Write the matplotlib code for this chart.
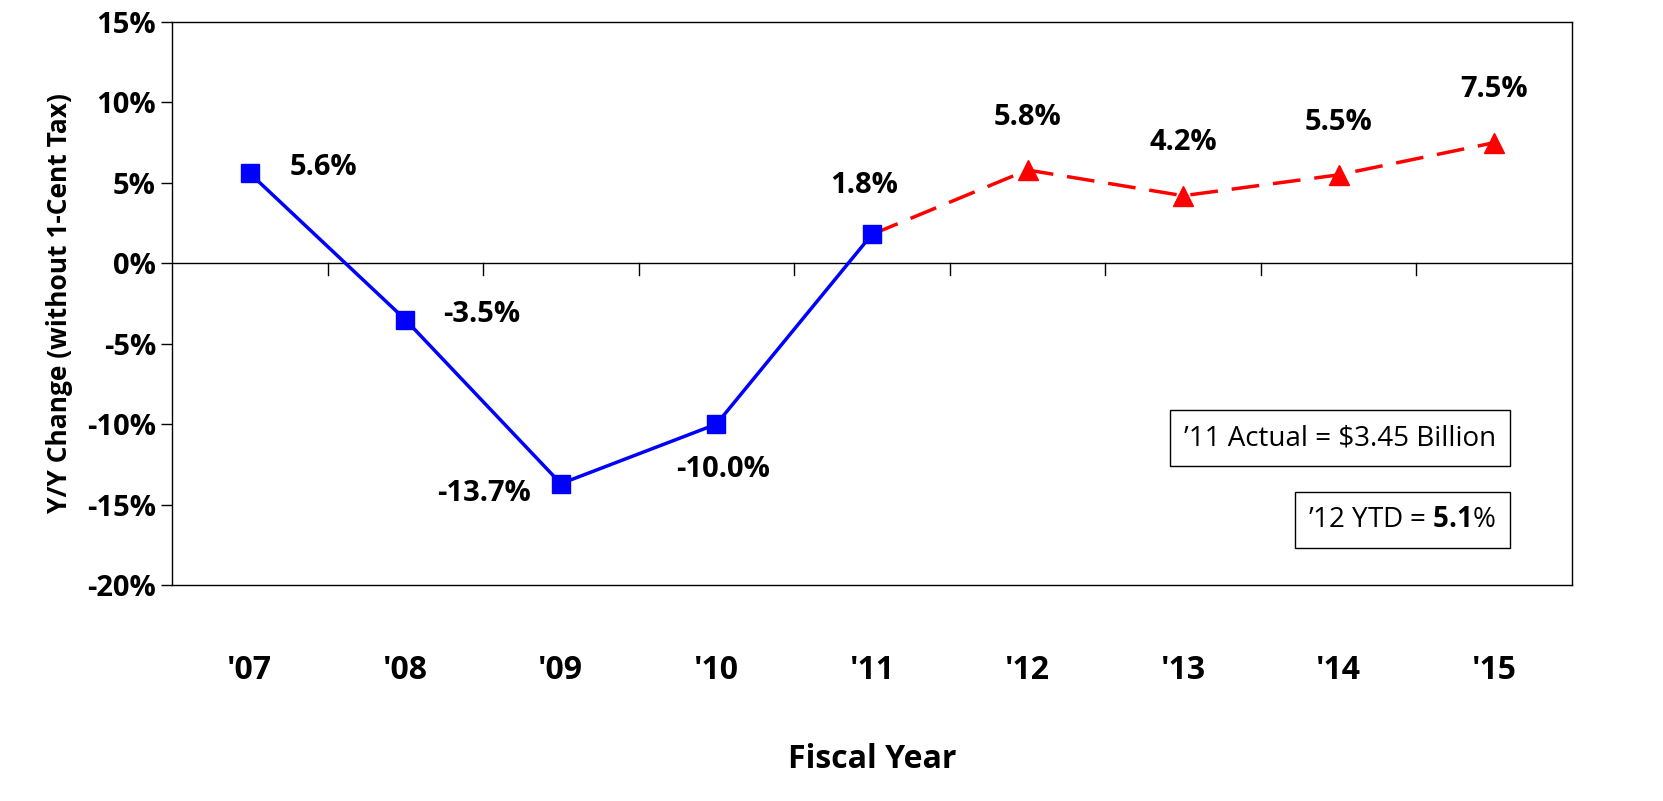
import numpy as np
import matplotlib
matplotlib.use("Agg")
import matplotlib.pyplot as plt

years = ["'07", "'08", "'09", "'10", "'11", "'12", "'13", "'14", "'15"]
actual = [5.6, -3.5, -13.7, -10.0, 1.8]
forecast = [1.8, 5.8, 4.2, 5.5, 7.5]
yticks = [15, 10, 5, 0, -5, -10, -15, -20]

plt.rcParams['font.family'] = ['Open Sans', 'DejaVu Sans']
plt.rcParams['font.weight'] = 'bold'
plt.rcParams['mathtext.fontset'] = 'custom'
plt.rcParams['mathtext.bf'] = 'Open Sans:bold'

fig = plt.figure(figsize=(16.63, 8.01), dpi=100)
ax = fig.add_axes([0.1034, 0.2697, 0.8419, 0.7028])

xa = np.arange(len(actual))
xf = np.arange(len(actual) - 1, len(years))
ax.plot(xa, actual, color='#0000FF', lw=2.5, marker='s', ms=13, zorder=3)
ax.plot(xf[1:], forecast[1:], color='#FF0000', lw=0, marker='^', ms=14, zorder=3)
ax.plot(xf, forecast, color='#FF0000', lw=2.5, dashes=(8, 4), zorder=2)

ax.set_xlim(-0.5, len(years) - 0.5)
ax.set_ylim(-20, 15)
ax.axhline(0, color='black', lw=1)
for i in range(len(years) - 1):
    ax.plot([i + 0.5, i + 0.5], [0, -0.75], color='black', lw=1)

ax.set_xticks(range(len(years)))
ax.set_xticklabels(years, fontsize=23, fontweight='bold')
ax.tick_params(axis='x', length=0, pad=50)
ax.set_yticks(yticks)
ax.set_yticklabels([f"{v}%" for v in yticks], fontsize=21, fontweight='bold')
ax.tick_params(axis='y', length=8, direction='out', width=1)
for s in ax.spines.values():
    s.set_linewidth(1)

ax.set_ylabel("Y/Y Change (without 1-Cent Tax)", fontsize=19, fontweight='bold', labelpad=10)
ax.set_xlabel("Fiscal Year", fontsize=23, fontweight='bold', labelpad=40)

def lab(x, y, t, dx, dy):
    ax.annotate(t, (x, y), xytext=(dx, dy), textcoords='offset points',
                ha='center', va='center', fontsize=21, fontweight='bold')

lab(0, actual[0], "5.6%", 53, 4)
lab(1, actual[1], "-3.5%", 55, 4)
lab(2, actual[2], "-13.7%", -55, -7)
lab(3, actual[3], "-10.0%", 5, -33)
lab(4, actual[4], "1.8%", -6, 35)
for i, v in zip(xf[1:], forecast[1:]):
    lab(i, v, f"{v}%", 0, 38)

ax.text(0.946, 0.261, "\u201911 Actual = $3.45 Billion", transform=ax.transAxes,
        ha='right', va='center', fontsize=20, fontweight='normal',
        bbox=dict(boxstyle='square,pad=0.5', fc='white', ec='black', lw=1))
ax.text(0.946, 0.115, "\u201912 YTD = $\\mathbf{5.1}$%", transform=ax.transAxes,
        ha='right', va='center', fontsize=20, fontweight='normal',
        bbox=dict(boxstyle='square,pad=0.5', fc='white', ec='black', lw=1))

fig.savefig("out.png", dpi=100)
